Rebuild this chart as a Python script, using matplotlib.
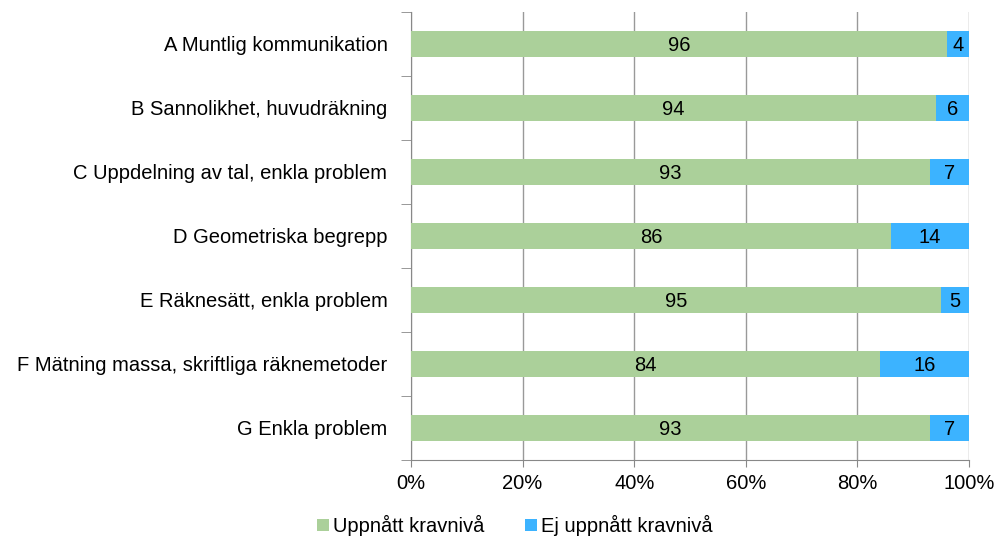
import matplotlib.pyplot as plt
import numpy as np

plt.rcParams['font.family'] = ['Liberation Sans', 'DejaVu Sans']

categories = [
    "A Muntlig kommunikation",
    "B Sannolikhet, huvudräkning",
    "C Uppdelning av tal, enkla problem",
    "D Geometriska begrepp",
    "E Räknesätt, enkla problem",
    "F Mätning massa, skriftliga räknemetoder",
    "G Enkla problem",
]
uppnatt = [96, 94, 93, 86, 95, 84, 93]
ej_uppnatt = [4, 6, 7, 14, 5, 16, 7]
series_names = ["Uppnått kravnivå", "Ej uppnått kravnivå"]

green = "#abd09a"
blue = "#3cb3ff"
fs = 14.5

fig = plt.figure(figsize=(10, 5.38), dpi=100)
ax = fig.add_axes([0.411, 0.145, 0.558, 0.833])

y = np.arange(len(categories))
b1 = ax.barh(y, uppnatt, height=0.4, color=green, label=series_names[0], zorder=3)
b2 = ax.barh(y, ej_uppnatt, left=uppnatt, height=0.4, color=blue, label=series_names[1], zorder=3)

for vals, lefts in [(uppnatt, [0] * len(uppnatt)), (ej_uppnatt, uppnatt)]:
    for yi, v, l in zip(y, vals, lefts):
        ax.text(l + v / 2, yi + 0.03, str(v), ha='center', va='center', fontsize=fs, zorder=4)

ax.set_xlim(0, 100)
ax.set_ylim(len(categories) - 0.5, -0.5)
ax.set_xticks(np.arange(0, 101, 20))
ax.set_xticklabels([f"{t}%" for t in range(0, 101, 20)], fontsize=fs)
ax.set_yticks(y)
ax.set_yticklabels(categories, fontsize=fs)
ax.set_yticks(np.arange(-0.5, len(categories)), minor=True)
ax.tick_params(axis='y', which='major', length=0, pad=17)
ax.tick_params(axis='y', which='minor', length=7, color='#888888')
ax.tick_params(axis='x', length=5, color='#888888', pad=5)
ax.xaxis.grid(True, color='#999999', linewidth=1, zorder=0)

for s in ['top', 'right']:
    ax.spines[s].set_visible(False)
for s in ['left', 'bottom']:
    ax.spines[s].set_color('#888888')

fig.legend(handles=[b1, b2], loc='lower center', bbox_to_anchor=(0.515, -0.03), ncol=2,
           frameon=False, fontsize=fs, handlelength=0.6, handleheight=0.6,
           handletextpad=0.2, columnspacing=2.0)

fig.savefig("out.png", dpi=100)
